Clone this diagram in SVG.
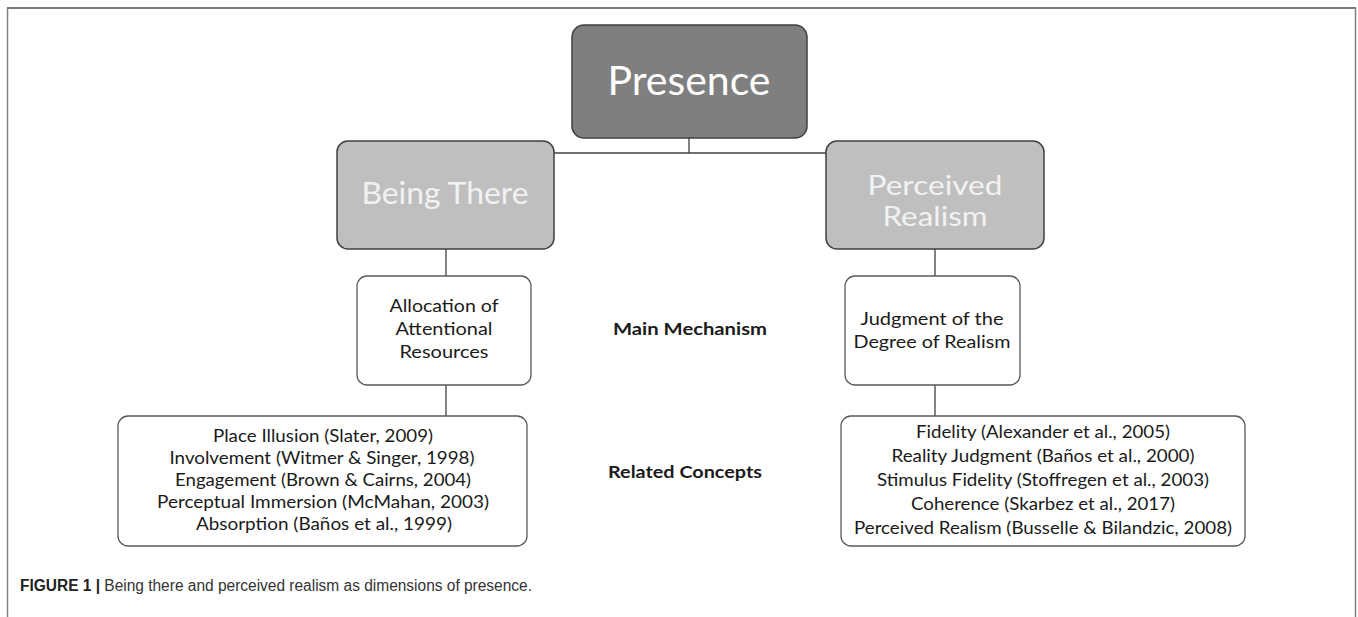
<svg xmlns="http://www.w3.org/2000/svg" width="1358" height="617" viewBox="0 0 1358 617">
<defs>
<style>
.t{font-family:Lato,"Open Sans","Liberation Sans",sans-serif;text-anchor:middle;fill:#1a1a1a}
.big{fill:#ffffff}
.mid{fill:#f2f2f2}
.box{fill:#ffffff;stroke:#595959;stroke-width:1.3}
.con{stroke:#404040;stroke-width:1.3;fill:none}
.lbl{font-family:Lato,"Open Sans","Liberation Sans",sans-serif;font-weight:bold;text-anchor:middle;fill:#1a1a1a}
.cap{font-family:"Liberation Sans",Arial,sans-serif;fill:#333333}
</style>
</defs>
<rect x="0" y="0" width="1358" height="617" fill="#ffffff"/>
<g id="frame">
<line x1="7" y1="8" x2="1356" y2="8" stroke="#4d4d4d" stroke-width="1.5"/>
<line x1="7.5" y1="8" x2="7.5" y2="617" stroke="#808080" stroke-width="1.5"/>
<line x1="1355.5" y1="8" x2="1355.5" y2="617" stroke="#808080" stroke-width="1.5"/>
</g>
<g id="connectors">
<line class="con" x1="689" y1="138" x2="689" y2="153"/>
<line class="con" x1="554" y1="153" x2="826" y2="153"/>
<line class="con" x1="446" y1="249" x2="446" y2="276"/>
<line class="con" x1="446" y1="385" x2="446" y2="416"/>
<line class="con" x1="935" y1="249" x2="935" y2="276"/>
<line class="con" x1="935" y1="385" x2="935" y2="416"/>
</g>
<g id="presence">
<rect x="572" y="25" width="235" height="113" rx="12" fill="#7f7f7f" stroke="#404040" stroke-width="1.5"/>
<text class="t big" x="689" y="95" font-size="40" textLength="163" lengthAdjust="spacingAndGlyphs">Presence</text>
</g>
<g id="being-there">
<rect x="337" y="141" width="217" height="108" rx="11" fill="#bfbfbf" stroke="#404040" stroke-width="1.5"/>
<text class="t mid" x="445" y="204" font-size="30" textLength="167" lengthAdjust="spacingAndGlyphs">Being There</text>
</g>
<g id="perceived-realism">
<rect x="826" y="141" width="218" height="108" rx="11" fill="#bfbfbf" stroke="#404040" stroke-width="1.5"/>
<text class="t mid" x="935" y="195" font-size="27" textLength="135" lengthAdjust="spacingAndGlyphs">Perceived</text>
<text class="t mid" x="935" y="226" font-size="27" textLength="105" lengthAdjust="spacingAndGlyphs">Realism</text>
</g>
<g id="allocation">
<rect class="box" x="357" y="276" width="174" height="109" rx="10"/>
<text class="t" x="444" y="312" font-size="18" textLength="109" lengthAdjust="spacingAndGlyphs">Allocation of</text>
<text class="t" x="444" y="335" font-size="18" textLength="97" lengthAdjust="spacingAndGlyphs">Attentional</text>
<text class="t" x="444" y="358" font-size="18" textLength="89" lengthAdjust="spacingAndGlyphs">Resources</text>
</g>
<g id="judgment">
<rect class="box" x="845" y="276" width="175" height="109" rx="10"/>
<text class="t" x="932" y="325" font-size="18" textLength="143" lengthAdjust="spacingAndGlyphs">Judgment of the</text>
<text class="t" x="932" y="348" font-size="18" textLength="157" lengthAdjust="spacingAndGlyphs">Degree of Realism</text>
</g>
<g id="related-left">
<rect class="box" x="118" y="416" width="409" height="130" rx="10"/>
<text class="t" x="323" y="442" font-size="17" textLength="220" lengthAdjust="spacingAndGlyphs">Place Illusion (Slater, 2009)</text>
<text class="t" x="322" y="464" font-size="17" textLength="305" lengthAdjust="spacingAndGlyphs">Involvement (Witmer &amp; Singer, 1998)</text>
<text class="t" x="323" y="486" font-size="17" textLength="296" lengthAdjust="spacingAndGlyphs">Engagement (Brown &amp; Cairns, 2004)</text>
<text class="t" x="323" y="508" font-size="17" textLength="332" lengthAdjust="spacingAndGlyphs">Perceptual Immersion (McMahan, 2003)</text>
<text class="t" x="324" y="530" font-size="17" textLength="256" lengthAdjust="spacingAndGlyphs">Absorption (Baños et al., 1999)</text>
</g>
<g id="related-right">
<rect class="box" x="841" y="416" width="404" height="130" rx="10"/>
<text class="t" x="1043" y="438" font-size="18" textLength="254" lengthAdjust="spacingAndGlyphs">Fidelity (Alexander et al., 2005)</text>
<text class="t" x="1043" y="462" font-size="18" textLength="303" lengthAdjust="spacingAndGlyphs">Reality Judgment (Baños et al., 2000)</text>
<text class="t" x="1043" y="486" font-size="18" textLength="332" lengthAdjust="spacingAndGlyphs">Stimulus Fidelity (Stoffregen et al., 2003)</text>
<text class="t" x="1043" y="510" font-size="18" textLength="264" lengthAdjust="spacingAndGlyphs">Coherence (Skarbez et al., 2017)</text>
<text class="t" x="1043" y="534" font-size="18" textLength="378" lengthAdjust="spacingAndGlyphs">Perceived Realism (Busselle &amp; Bilandzic, 2008)</text>
</g>
<g id="labels">
<text class="lbl" x="690" y="335" font-size="17" textLength="154" lengthAdjust="spacingAndGlyphs">Main Mechanism</text>
<text class="lbl" x="685" y="478" font-size="17" textLength="154" lengthAdjust="spacingAndGlyphs">Related Concepts</text>
</g>
<g id="caption">
<text class="cap" x="20" y="591" font-size="16" textLength="512" lengthAdjust="spacingAndGlyphs"><tspan font-weight="bold" fill="#222222">FIGURE 1 | </tspan>Being there and perceived realism as dimensions of presence.</text>
</g>
</svg>
